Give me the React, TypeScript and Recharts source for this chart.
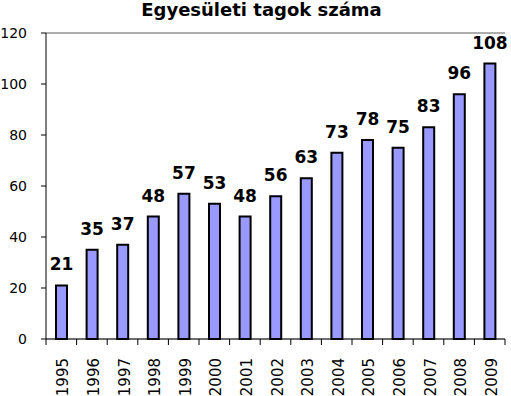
import React from 'react';
import { BarChart, Bar, XAxis, YAxis, CartesianGrid, LabelList, ReferenceLine } from 'recharts';

const years = ['1995','1996','1997','1998','1999','2000','2001','2002','2003','2004','2005','2006','2007','2008','2009'];
const members = [21,35,37,48,57,53,48,56,63,73,78,75,83,96,108];
const yTicks = [0,20,40,60,80,100,120];
const title = 'Egyesületi tagok száma';

const data = years.map((y, i) => ({ year: y, v: members[i] }));

const W = 511;
const H = 396;
const M = { top: 33, right: 6, left: 0, bottom: 0 };
const Y_W = 46;
const X_H = 57;
const HALF = (W - M.right - M.left - Y_W) / years.length / 2;
const FONT = '"DejaVu Sans", Verdana, sans-serif';

const XTick = (props: any) => {
  const { x, y, payload, index } = props;
  return (
    <g>
      <line x1={x - HALF} y1={y} x2={x - HALF} y2={y + 6} stroke="#000" strokeWidth={1} />
      {index === years.length - 1 && (
        <line x1={x + HALF} y1={y} x2={x + HALF} y2={y + 6} stroke="#000" strokeWidth={1} />
      )}
      <text
        transform={`translate(${x + 2},${y + 19}) rotate(-90)`}
        textAnchor="end"
        dominantBaseline="central"
        fontFamily={FONT}
        fontSize={15}
        fill="#000"
      >
        {payload.value}
      </text>
    </g>
  );
};

export default function App() {
  return (
    <div style={{ position: 'absolute', left: 0, top: 0, width: W, height: H, background: '#fff', overflow: 'hidden' }}>
      <div
        style={{
          position: 'absolute',
          left: 6,
          top: 0,
          width: W,
          textAlign: 'center',
          fontFamily: FONT,
          fontWeight: 'bold',
          fontSize: 18,
          lineHeight: '20px',
          color: '#000',
          zIndex: 2,
        }}
      >
        {title}
      </div>
      <BarChart width={W} height={H} data={data} margin={M} barCategoryGap={0}>
        <CartesianGrid vertical={false} stroke="#b4b4b4" />
        <XAxis
          dataKey="year"
          height={X_H}
          tickSize={0}
          tickMargin={0}
          tickLine={false}
          axisLine={{ stroke: '#000' }}
          tick={<XTick />}
          interval={0}
        />
        <YAxis
          yAxisId="l"
          width={Y_W}
          domain={[0, 120]}
          ticks={yTicks}
          tickSize={5}
          tickMargin={14}
          axisLine={{ stroke: '#000' }}
          tickLine={{ stroke: '#000' }}
          tick={{ fill: '#000', fontSize: 14, fontFamily: FONT }}
        />
        <YAxis
          yAxisId="r"
          orientation="right"
          width={0}
          domain={[0, 120]}
          ticks={yTicks}
          tick={false}
          tickLine={false}
          axisLine={{ stroke: '#808080' }}
        />
        <ReferenceLine yAxisId="l" y={120} stroke="#808080" />
        <Bar
          yAxisId="l"
          dataKey="v"
          fill="#9999ff"
          stroke="#000"
          strokeWidth={2}
          barSize={11}
          isAnimationActive={false}
        >
          <LabelList
            dataKey="v"
            position="top"
            offset={15}
            style={{ fontFamily: FONT, fontWeight: 'bold', fontSize: 17, fill: '#000' }}
          />
        </Bar>
      </BarChart>
    </div>
  );
}
